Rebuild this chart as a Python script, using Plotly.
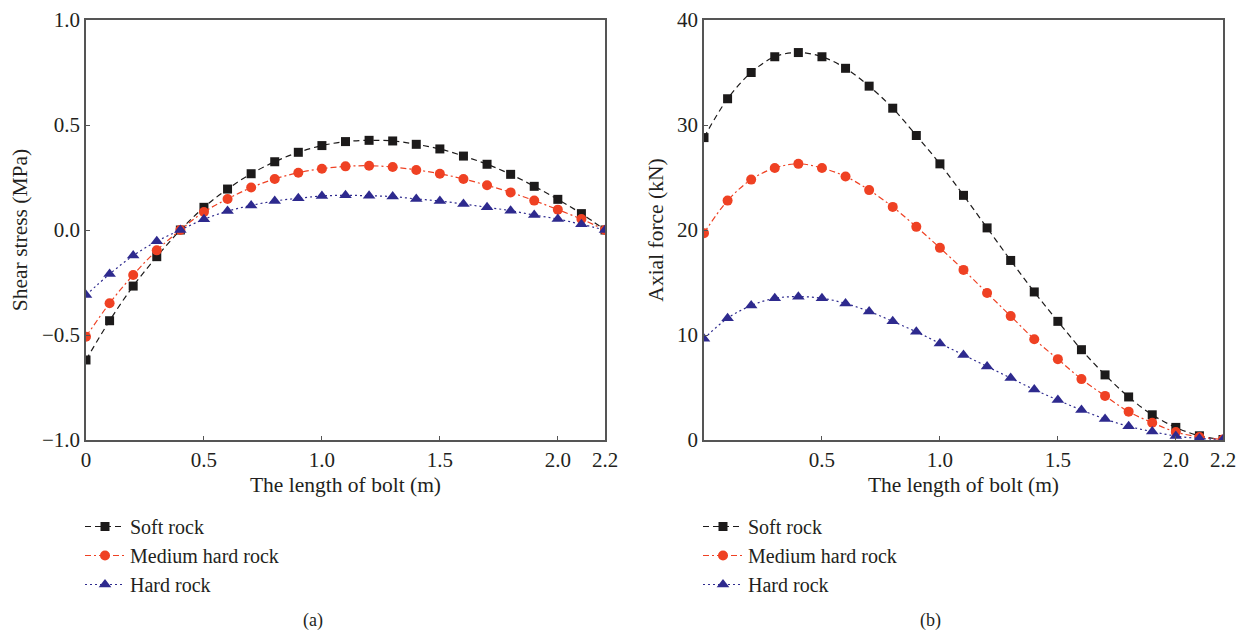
import plotly.graph_objects as go

# ---------------- data ----------------
length_m = [0.0, 0.1, 0.2, 0.3, 0.4, 0.5, 0.6, 0.7, 0.8, 0.9, 1.0, 1.1,
            1.2, 1.3, 1.4, 1.5, 1.6, 1.7, 1.8, 1.9, 2.0, 2.1, 2.2]

shear_soft = [-0.619, -0.432, -0.267, -0.127, 0.0, 0.108, 0.195, 0.268, 0.325, 0.370,
              0.402, 0.421, 0.427, 0.424, 0.408, 0.386, 0.352, 0.313, 0.265, 0.208,
              0.146, 0.078, 0.0]
shear_medium = [-0.508, -0.349, -0.214, -0.097, 0.0, 0.086, 0.148, 0.202, 0.243, 0.273,
                0.292, 0.303, 0.306, 0.300, 0.286, 0.268, 0.243, 0.213, 0.179, 0.140,
                0.097, 0.052, 0.0]
shear_hard = [-0.310, -0.210, -0.122, -0.054, 0.0, 0.051, 0.090, 0.117, 0.138, 0.151,
              0.162, 0.165, 0.163, 0.159, 0.148, 0.138, 0.124, 0.108, 0.092, 0.071,
              0.052, 0.027, 0.0]

axial_soft = [28.8, 32.5, 35.0, 36.5, 36.9, 36.5, 35.4, 33.7, 31.6, 29.0, 26.3, 23.3,
              20.2, 17.1, 14.1, 11.3, 8.6, 6.2, 4.1, 2.4, 1.2, 0.4, 0.05]
axial_medium = [19.7, 22.8, 24.8, 25.9, 26.3, 25.9, 25.1, 23.8, 22.2, 20.3, 18.3, 16.2,
                14.0, 11.8, 9.6, 7.7, 5.8, 4.2, 2.7, 1.65, 0.76, 0.29, 0.05]
axial_hard = [9.65, 11.6, 12.8, 13.5, 13.65, 13.5, 13.0, 12.25, 11.3, 10.3, 9.2, 8.1,
              7.0, 5.9, 4.8, 3.8, 2.85, 2.0, 1.3, 0.8, 0.38, 0.15, 0.05]

series_names = ["Soft rock", "Medium hard rock", "Hard rock"]

x_tickvals_a = [0, 0.5, 1.0, 1.5, 2.0, 2.2]
x_ticktext_a = ["0", "0.5", "1.0", "1.5", "2.0", "2.2"]
x_tickvals_b = [0.5, 1.0, 1.5, 2.0, 2.2]
x_ticktext_b = ["0.5", "1.0", "1.5", "2.0", "2.2"]
y_tickvals_a = [-1.0, -0.5, 0.0, 0.5, 1.0]
y_tickvals_b = [0, 10, 20, 30, 40]

# ---------------- styles ----------------
FONT = "Liberation Serif"
TXT = "#231f20"
AXC = "#555555"
styles = [
    dict(color="#1c1a1a", dash="6px,4px", symbol="square", size=9),
    dict(color="#ef4123", dash="6px,3px,2px,3px", symbol="circle", size=10),
    dict(color="#2e2a8e", dash="2px,3px", symbol="triangle-up", size=11),
]

W, H = 1242, 635
def px_x(p):
    return p / W
def px_y(p):
    return (H - p) / H

fig = go.Figure()

left_sets = [shear_soft, shear_medium, shear_hard]
right_sets = [axial_soft, axial_medium, axial_hard]
for name, ys, st in zip(series_names, left_sets, styles):
    fig.add_trace(go.Scatter(
        x=length_m, y=ys, name=name, mode="lines+markers",
        line=dict(color=st["color"], width=1.2, dash=st["dash"], shape="spline"),
        marker=dict(symbol=st["symbol"], size=st["size"], color=st["color"]),
        xaxis="x", yaxis="y", legend="legend"))
for name, ys, st in zip(series_names, right_sets, styles):
    fig.add_trace(go.Scatter(
        x=length_m, y=ys, name=name, mode="lines+markers",
        line=dict(color=st["color"], width=1.2, dash=st["dash"], shape="spline"),
        marker=dict(symbol=st["symbol"], size=st["size"], color=st["color"]),
        xaxis="x2", yaxis="y2", legend="legend2"))

axis_common = dict(
    showline=True, linecolor=AXC, linewidth=1.5, mirror=True,
    ticks="inside", ticklen=4, tickcolor=AXC, tickwidth=1.2,
    showgrid=False, zeroline=False, automargin=False,
    tickfont=dict(family=FONT, size=21, color=TXT),
)
title_font = dict(family=FONT, size=21.5, color=TXT)

legend_common = dict(
    font=dict(family=FONT, size=20, color=TXT),
    bgcolor="rgba(0,0,0,0)", borderwidth=0,
    xanchor="left", yanchor="top", tracegroupgap=0, itemwidth=40,
)

fig.update_layout(
    template="none",
    width=W, height=H,
    margin=dict(l=0, r=0, t=0, b=0, autoexpand=False),
    paper_bgcolor="white", plot_bgcolor="white",
    xaxis=dict(domain=[px_x(86), px_x(605)], range=[0, 2.2], anchor="y",
               tickvals=x_tickvals_a, ticktext=x_ticktext_a,
               title=dict(text="The length of bolt (m)", font=title_font, standoff=6),
               **axis_common),
    yaxis=dict(domain=[px_y(440), px_y(20)], range=[-1.0, 1.0], anchor="x",
               tickvals=y_tickvals_a, tickformat=".1f",
               title=dict(text="Shear stress (MPa)", font=title_font, standoff=8),
               **axis_common),
    xaxis2=dict(domain=[px_x(704), px_x(1223)], range=[0, 2.2], anchor="y2",
                tickvals=x_tickvals_b, ticktext=x_ticktext_b,
                title=dict(text="The length of bolt (m)", font=title_font, standoff=6),
                **axis_common),
    yaxis2=dict(domain=[px_y(440), px_y(20)], range=[0, 40], anchor="x2",
                tickvals=y_tickvals_b,
                title=dict(text="Axial force (kN)", font=title_font, standoff=8),
                **axis_common),
    legend=dict(x=px_x(80), y=px_y(507), **legend_common),
    legend2=dict(x=px_x(698), y=px_y(507), **legend_common),
    showlegend=True,
    annotations=[
        dict(text="(a)", x=px_x(313), y=px_y(620), xref="paper", yref="paper",
             xanchor="center", yanchor="middle",
             showarrow=False, font=dict(family=FONT, size=18, color=TXT)),
        dict(text="(b)", x=px_x(930), y=px_y(620), xref="paper", yref="paper",
             xanchor="center", yanchor="middle",
             showarrow=False, font=dict(family=FONT, size=18, color=TXT)),
    ],
)

fig.write_html("out.html")
